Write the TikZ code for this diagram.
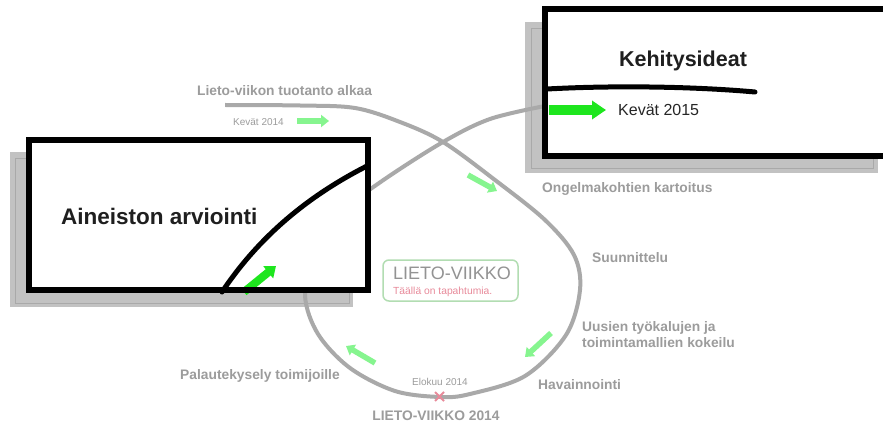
\documentclass[tikz,border=0pt]{standalone}
\usepackage{fontspec}
\setmainfont{Liberation Sans}
\usetikzlibrary{arrows.meta}
\definecolor{harmaa}{HTML}{A9A9A9}
\definecolor{teksti}{HTML}{9C9C9C}
\definecolor{varjo}{HTML}{C2C2C2}
\definecolor{vihrea}{HTML}{86F58F}
\definecolor{kirkas}{HTML}{1EE61E}
\definecolor{logovihrea}{HTML}{B2DDB2}
\definecolor{pinkki}{HTML}{E88A9A}
\begin{document}
\begin{tikzpicture}[x=1pt,y=-1pt,
  vaihe/.style={anchor=west,inner sep=0pt,text=teksti,font=\fontsize{13.8}{16}\selectfont\bfseries},
  pvm/.style={inner sep=0pt,text=teksti,font=\fontsize{10}{12}\selectfont},
  nuoli/.style={vihrea,line width=5.5pt,-{Triangle[length=8pt,width=12pt]}},
  otsikko/.style={inner sep=0pt,text=black!88,font=\fontsize{22.5}{26}\selectfont\bfseries}]
\clip (0,0) rectangle (883,425);
\fill[white] (0,0) rectangle (883,425);
% varjot
\fill[varjo] (10,152) rectangle (353,307);
\draw[harmaa] (15,158) rectangle (349,303);
\fill[varjo] (525,22) rectangle (878,173);
\draw[harmaa] (531,28) rectangle (873,168);
% kierros
\draw[harmaa,line width=4pt] plot[smooth,tension=0.55] coordinates {(225,105) (300,105.5) (355,108)
  (400,122) (443,142) (495,180) (545,220) (574,255) (580,290) (566,335) (525,376) (470,394) (440,397)
  (395,391) (350,368) (318,334) (305,295) (315,250) (345,210) (382,181) (443,142) (490,119) (545,106)};
\draw[nuoli] (297,121)--(329,121);
\draw[nuoli] (468,175)--(497,191);
\draw[nuoli] (551,333)--(525,357);
\draw[nuoli] (375,363)--(346,346);
% laatikot
\fill[white] (28.5,140) rectangle (367.5,290);
\draw[line width=5pt,line cap=round] (222,292) .. controls (260,235) and (310,195) .. (367,166);
\draw[kirkas,line width=8pt,-{Triangle[length=10pt,width=15pt]}] (244,292)--(276,266);
\draw[line width=6pt] (28.5,140) rectangle (367.5,290);
\node[otsikko,anchor=west] (arviointi) at (61,216) {Aineiston arviointi};
\fill[white] (545,9.5) rectangle (900,156);
\draw[line width=5pt,line cap=round] (547,89) .. controls (620,85) and (700,87) .. (755,92);
\draw[kirkas,line width=10pt,-{Triangle[length=14pt,width=18pt]}] (549,110)--(606,110);
\draw[line width=6pt] (900,9.5) -- (545,9.5) -- (545,156) -- (900,156);
\node[otsikko,font=\fontsize{21.5}{26}\selectfont\bfseries] (ideat) at (683,61) {Kehitysideat};
\node[inner sep=0pt,anchor=west,text=black!85,font=\fontsize{16}{18}\selectfont] (kevat15) at (618,110) {Kevät 2015};
% tekstit
\node[vaihe] (alku) at (197,91) {Lieto-viikon tuotanto alkaa};
\node[pvm,anchor=west] (kevat14) at (233,122) {Kevät 2014};
\node[vaihe] (kartoitus) at (542,189) {Ongelmakohtien kartoitus};
\node[vaihe] (suunnittelu) at (592,258) {Suunnittelu};
\node[vaihe,align=left,font=\fontsize{13.8}{16}\selectfont\bfseries] (kokeilu) at (582,335) {Uusien työkalujen ja\\toimintamallien kokeilu};
\node[vaihe] (havainnointi) at (538,385) {Havainnointi};
\node[vaihe] (palaute) at (180,376) {Palautekysely toimijoille};
\node[pvm] (elokuu) at (440,382) {Elokuu 2014};
\draw[pinkki,line width=2pt] (435,392)--(444,401) (435,401)--(444,392);
\node[vaihe,anchor=center] (viikko) at (436,416) {LIETO-VIIKKO 2014};
% logo
\draw[logovihrea,line width=1.5pt,rounded corners=6pt] (383,260) rectangle (518,301);
\node[inner sep=0pt,anchor=west,text=gray!85,font=\fontsize{18}{20}\selectfont] (logo) at (393,273) {LIETO-VIIKKO};
\node[inner sep=0pt,anchor=west,text=pinkki,font=\fontsize{10.3}{12}\selectfont] (logoteksti) at (393,292) {Täällä on tapahtumia.};
\end{tikzpicture}
\end{document}
